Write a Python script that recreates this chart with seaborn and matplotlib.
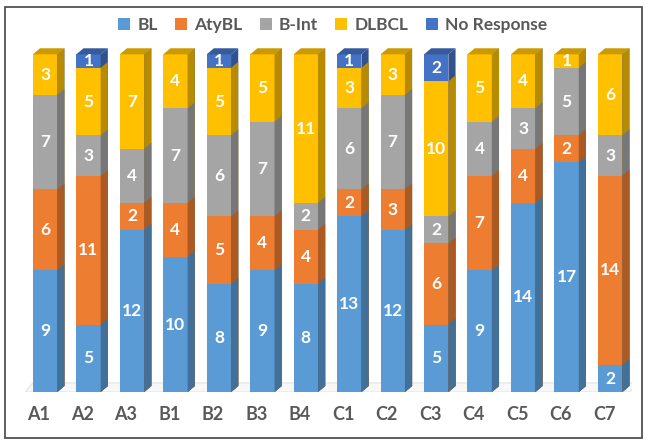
# 3D-look stacked columns: response category per sample
import numpy as np
import pandas as pd
import seaborn as sns
import matplotlib.pyplot as plt
import matplotlib.colors as mcolors
from matplotlib.patches import Polygon, Rectangle
from matplotlib.transforms import ScaledTranslation

samples = ['A1', 'A2', 'A3', 'B1', 'B2', 'B3', 'B4', 'C1', 'C2', 'C3', 'C4', 'C5', 'C6', 'C7']
series = ['BL', 'AtyBL', 'B-Int', 'DLBCL', 'No Response']
bl = [9, 5, 12, 10, 8, 9, 8, 13, 12, 5, 9, 14, 17, 2]
atybl = [6, 11, 2, 4, 5, 4, 4, 2, 3, 6, 7, 4, 2, 14]
bint = [7, 3, 4, 7, 6, 7, 2, 6, 7, 2, 4, 3, 5, 3]
dlbcl = [3, 5, 7, 4, 5, 5, 11, 3, 3, 10, 5, 4, 1, 6]
no_resp = [0, 1, 0, 0, 1, 0, 0, 1, 0, 2, 0, 0, 0, 0]
colors = ['#5B9BD5', '#ED7D31', '#A5A5A5', '#FFC000', '#4472C4']

values = [bl, atybl, bint, dlbcl, no_resp]
cum = np.cumsum(np.array(values), axis=0)

df = pd.DataFrame({'sample': np.tile(samples, len(series)),
                   'series': np.repeat(series, len(samples)),
                   'value': np.concatenate(values),
                   'cum': cum.ravel()})

def shade(c, f):
    r, g, b = mcolors.to_rgb(c)
    return (r * f, g * f, b * f)

W, DX, DY = 0.56, 0.165, 0.45

fig = plt.figure(figsize=(6.47, 4.45), dpi=100)
ax = fig.add_axes([0.036, 0.119, 0.9405, 0.8135])

# floor
floor = Polygon([(-0.45, 0), (13.45, 0), (13.45 + DX, DY * 1.5), (-0.45 + DX, DY * 1.5)],
                closed=True, facecolor='#F8F8F8', edgecolor='#E2E2E2', lw=0.8, zorder=0)
ax.add_patch(floor)

# top colour = highest non-zero segment
top_cols = []
for j in range(len(samples)):
    k = max(i for i in range(len(series)) if values[i][j] > 0)
    top_cols.append(colors[k])

# draw cumulative bars from the top layer down, so lower layers overwrite
for i in reversed(range(len(series))):
    n0 = len(ax.patches)
    sub = df[df['series'] == series[i]]
    sns.barplot(data=sub, x='sample', y='cum', order=samples, color=colors[i],
                width=W, saturation=1, label=series[i], ax=ax, zorder=2)
    for j, p in enumerate(ax.patches[n0:n0 + len(samples)]):
        x1 = p.get_x() + p.get_width()
        h = p.get_height()
        side = Polygon([(x1, 0), (x1 + DX, DY), (x1 + DX, h + DY), (x1, h)],
                       closed=True, facecolor=shade(colors[i], 0.72), lw=0, zorder=2)
        ax.add_patch(side)
        if i == len(series) - 1:
            x0 = p.get_x()
            top = Polygon([(x0, h), (x1, h), (x1 + DX, h + DY), (x0 + DX, h + DY)],
                          closed=True, facecolor=shade(top_cols[j], 0.8), lw=0, zorder=3)
            ax.add_patch(top)

handles, labels = ax.get_legend_handles_labels()
if ax.get_legend() is not None:
    ax.get_legend().remove()

# segment labels
for i in range(len(series)):
    for j in range(len(samples)):
        v = values[i][j]
        if v > 0:
            ax.text(j, cum[i][j] - v / 2, str(v), ha='center', va='center',
                    color='white', fontsize=12.5, fontweight='bold', family='Lato', zorder=5)

ax.set_xlim(-0.5, 13.5)
ax.set_ylim(0, 26.8)
ax.set_xlabel('')
ax.set_ylabel('')
ax.set_yticks([])
for s in ax.spines.values():
    s.set_visible(False)
ax.tick_params(axis='x', length=0, pad=10)
for lab in ax.get_xticklabels():
    lab.set_fontsize(13)
    lab.set_fontweight('bold')
    lab.set_color('#595959')
    lab.set_family('Lato')
    lab.set_transform(lab.get_transform() + ScaledTranslation(-6 / 100, 0, fig.dpi_scale_trans))

fig.legend(handles[::-1], labels[::-1], loc='upper center', bbox_to_anchor=(0.514, 0.997),
           ncol=5, frameon=False, handlelength=0.7, handleheight=0.7, handletextpad=0.4,
           columnspacing=1.0, prop={'family': 'Lato', 'weight': 'bold', 'size': 12.5},
           labelcolor='#595959')

fig.patches.append(Rectangle((0.008, 0.016), 0.984, 0.968, transform=fig.transFigure,
                             fill=False, edgecolor='#505050', lw=1.3))

fig.savefig('out.png', dpi=100)
